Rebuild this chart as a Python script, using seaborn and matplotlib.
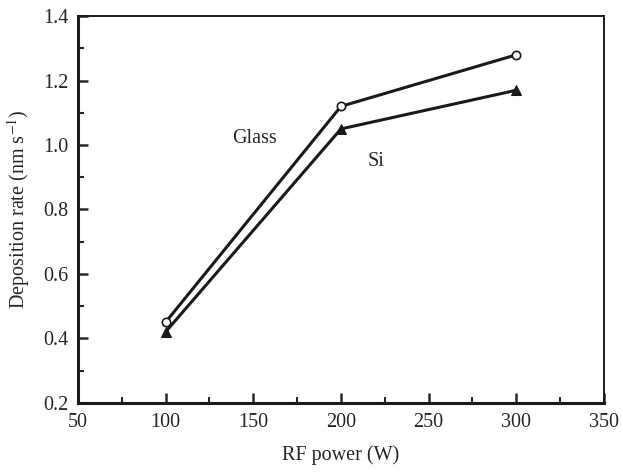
import matplotlib
matplotlib.use('Agg')
import matplotlib.pyplot as plt
import pandas as pd
import seaborn as sns

# Data
rf_power = [100, 200, 300]
glass_rate = [0.45, 1.12, 1.28]
si_rate = [0.42, 1.05, 1.17]

df = pd.DataFrame({'power': rf_power * 2,
                   'rate': glass_rate + si_rate,
                   'substrate': ['Glass'] * 3 + ['Si'] * 3})

sns.set_style('ticks')
plt.rcParams['font.family'] = ['Liberation Serif', 'DejaVu Serif']
plt.rcParams['mathtext.fontset'] = 'stix'

fig, ax = plt.subplots(figsize=(6.23, 4.75), dpi=100)
fig.subplots_adjust(left=0.125, right=0.9695, top=0.966, bottom=0.152)

sns.lineplot(data=df[df.substrate == 'Glass'], x='power', y='rate', ax=ax,
             color='#1a1a1a', lw=2.2, marker='o', markersize=6,
             markerfacecolor='white', markeredgecolor='#1a1a1a', markeredgewidth=1.2)
sns.lineplot(data=df[df.substrate == 'Si'], x='power', y='rate', ax=ax,
             color='#1a1a1a', lw=2.2, marker='^', markersize=7,
             markerfacecolor='#1a1a1a', markeredgecolor='#1a1a1a')

ax.text(138, 1.005, 'Glass', fontsize=14.5)
ax.text(215, 0.935, 'Si', fontsize=14.5)

ax.set_xlim(50, 350)
ax.set_ylim(0.2, 1.4)
ax.set_xticks([50, 100, 150, 200, 250, 300, 350])
ax.set_xticks([75, 125, 175, 225, 275, 325], minor=True)
ax.set_yticks([0.2, 0.4, 0.6, 0.8, 1.0, 1.2, 1.4])
ax.set_yticks([0.3, 0.5, 0.7, 0.9, 1.1, 1.3], minor=True)
ax.set_yticklabels(['0.2', '0.4', '0.6', '0.8', '1.0', '1.2', '1.4'])

ax.tick_params(which='major', direction='in', length=7, width=1.8, labelsize=14.5, pad=7)
ax.tick_params(which='minor', direction='in', length=4, width=1.5)
for side in ['left', 'bottom']:
    ax.spines[side].set_linewidth(2.2)
for side in ['top', 'right']:
    ax.spines[side].set_linewidth(1.4)
for s in ax.spines.values():
    s.set_color('#1a1a1a')

ax.set_xlabel('RF power (W)', fontsize=14.5, labelpad=10)
ax.set_ylabel('Deposition rate (nm s$^{-1}$)', fontsize=14.5, labelpad=8)

fig.savefig('out.png', dpi=100)
